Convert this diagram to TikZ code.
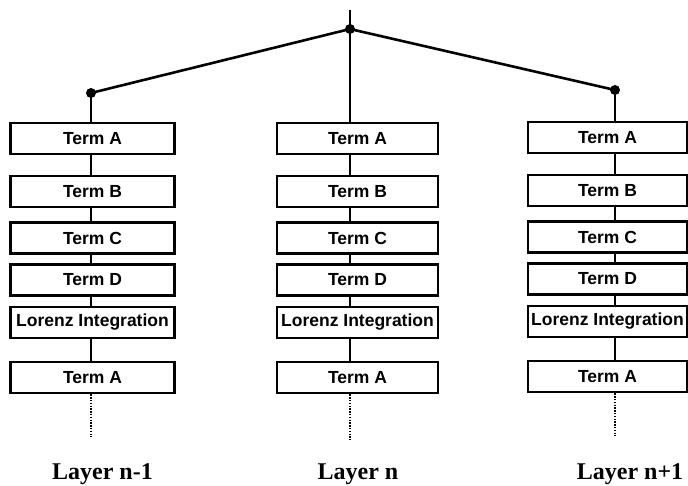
\documentclass[tikz,border=0pt]{standalone}
\usepackage{fontspec}
\setmainfont{Liberation Serif}
\setsansfont{Liberation Sans}
\begin{document}
\begin{tikzpicture}[x=1pt,y=-1pt,
  termbox/.style={draw, line width=2.6pt, minimum height=31pt, inner sep=0pt,
    font=\sffamily\bfseries\fontsize{17.5}{19}\selectfont},
  joint/.style={circle, fill=black, inner sep=0pt, minimum size=10pt},
  link/.style={line width=2.6pt},
  cont/.style={line width=2pt, dash pattern=on 1.5pt off 1.3pt},
  layerlabel/.style={anchor=base, inner sep=0pt, font=\bfseries\fontsize{24}{26}\selectfont}]
\useasboundingbox (0,0) rectangle (688,485);

% joints
\coordinate (top) at (350,10);
\node[joint] (dotM) at (350,29) {};
\node[joint] (dotL) at (91,93) {};
\node[joint] (dotR) at (615,90) {};

% boxes
\foreach \n/\t/\y in {A/Term A/138.5, B/Term B/191.5, C/Term C/238, D/Term D/280, L/Lorenz Integration/322.5, E/Term A/377.5}{
  \node[termbox, minimum width=164pt] (L\n) at (92.5,\y) {\t};
  \node[termbox, minimum width=161pt] (M\n) at (357.5,\y) {\t};
  \node[termbox, minimum width=159pt] (R\n) at (607.5,\y-1) {\t};
}

\coordinate (endL) at (91,437);
\coordinate (endM) at (350,440);
\coordinate (endR) at (615,436);

% top tree
\draw[link] (top) -- (dotM.center);
\draw[link] (dotL.center) -- (dotM.center) -- (dotR.center);

% columns
\foreach \c/\d in {L/dotL, M/dotM, R/dotR}{
  \draw[link] (\d.center) -- (\d |- \c A.north);
  \draw[link] (\d |- \c A.south) -- (\d |- \c B.north);
  \draw[link] (\d |- \c B.south) -- (\d |- \c C.north);
  \draw[link] (\d |- \c C.south) -- (\d |- \c D.north);
  \draw[link] (\d |- \c D.south) -- (\d |- \c L.north);
  \draw[link] (\d |- \c L.south) -- (\d |- \c E.north);
  \draw[cont] (\d |- \c E.south) -- (end\c);
}

% labels
\node[layerlabel] (labL) at (102.5,479) {Layer n-1};
\node[layerlabel] (labM) at (358,479) {Layer n};
\node[layerlabel] (labR) at (630,479) {Layer n+1};
\end{tikzpicture}
\end{document}
